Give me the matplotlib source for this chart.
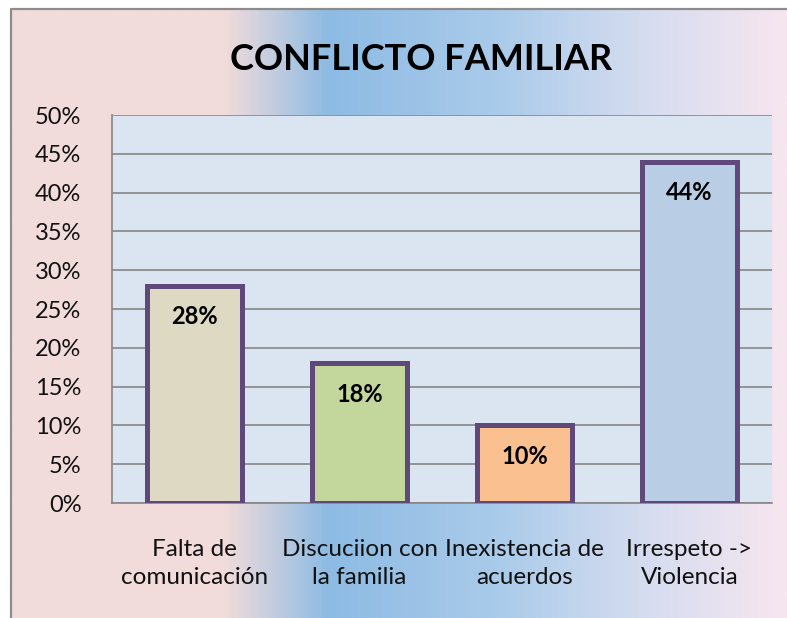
import numpy as np
import matplotlib.pyplot as plt
from matplotlib.colors import LinearSegmentedColormap

categories = ["Falta de\ncomunicación", "Discuciion con\nla familia",
              "Inexistencia de\nacuerdos", "Irrespeto ->\nViolencia"]
values = [28, 18, 10, 44]
bar_labels = ["28%", "18%", "10%", "44%"]
bar_colors = ["#ddd9c3", "#c3d69b", "#fac090", "#b9cde5"]
yticks = [0, 5, 10, 15, 20, 25, 30, 35, 40, 45, 50]

plt.rcParams['font.family'] = ['Lato', 'DejaVu Sans']

W, H = 787, 618
fig = plt.figure(figsize=(W / 100, H / 100), dpi=100)
fig.patch.set_facecolor("white")

# background: whole figure in pixel coordinates
bg = fig.add_axes([0, 0, 1, 1])
bg.set_zorder(-10)
bg.set_axis_off()
bg.set_xlim(0, W)
bg.set_ylim(H, 0)
span = W - 12
stops = [(0.0, "#f2dcdb"), ((223 - 12) / span, "#f2dcdb"),
         ((327 - 12) / span, "#8dbbe3"), ((500 - 12) / span, "#aacbea"),
         ((640 - 12) / span, "#d4dcef"), (1.0, "#f7e6f0")]
cmap = LinearSegmentedColormap.from_list("bg", stops)
grad = np.linspace(0, 1, 600).reshape(1, -1)
bg.imshow(grad, aspect="auto", cmap=cmap, extent=[12, W + 2, H + 2, 9],
          interpolation="bilinear")
bg.plot([11, 11, W + 5], [H + 5, 8.5, 8.5], color="#8c8c8c", linewidth=1.6)
bg.set_xlim(0, W)
bg.set_ylim(H, 0)

# plot area
x0, x1, ytop, ybot = 112, 772, 115, 503
ax = fig.add_axes([x0 / W, 1 - ybot / H, (x1 - x0) / W, (ybot - ytop) / H])
ax.set_facecolor("#dbe5f1")
xs = np.arange(len(categories))
bars = ax.bar(xs, values, width=0.58, color=bar_colors, edgecolor="#5f497a",
              linewidth=3.6, zorder=3)
for b, lab in zip(bars, bar_labels):
    ax.text(b.get_x() + b.get_width() / 2, b.get_height() - 4.0, lab,
            ha="center", va="center", fontsize=17, fontweight="bold", zorder=4)

ax.set_xlim(-0.5, len(categories) - 0.5)
ax.set_ylim(0, 50)
ax.set_yticks(yticks)
ax.set_yticklabels([f"{t}%" for t in yticks], fontsize=17)
ax.set_xticks(xs)
ax.set_xticklabels(categories, fontsize=17.5, linespacing=1.4)
ax.tick_params(axis="both", length=0, colors="#111111")
ax.tick_params(axis="y", pad=22)
ax.tick_params(axis="x", pad=26)
ax.yaxis.grid(True, color="#868686", linewidth=1.2, zorder=0)
ax.set_axisbelow(True)
for s in ["top", "right"]:
    ax.spines[s].set_visible(False)
for s in ["left", "bottom"]:
    ax.spines[s].set_color("#868686")
    ax.spines[s].set_linewidth(1.2)

fig.text(421 / W, 1 - 59 / H, "CONFLICTO FAMILIAR", ha="center", va="center",
         fontsize=26, fontweight="bold")

fig.savefig("out.png", dpi=100)
